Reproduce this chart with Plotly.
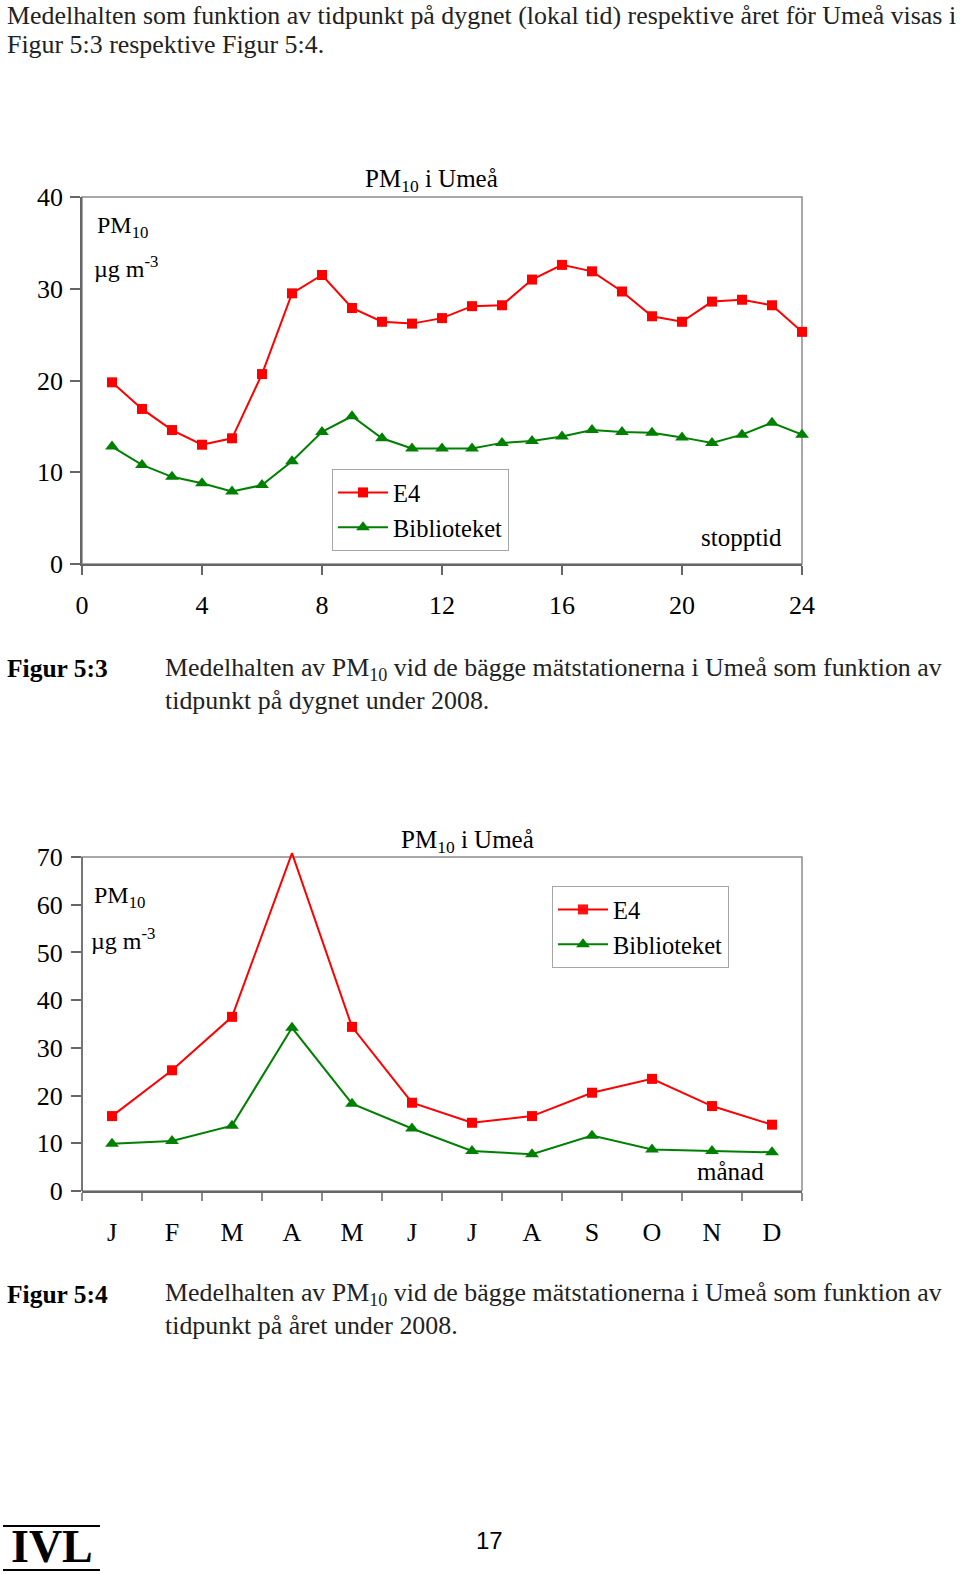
import plotly.graph_objects as go

# ---------- data ----------
hours = list(range(1, 25))
e4_hour = [19.8, 16.9, 14.6, 13.0, 13.7, 20.7, 29.5, 31.5, 27.9, 26.4, 26.2, 26.8,
           28.1, 28.2, 31.0, 32.6, 31.9, 29.7, 27.0, 26.4, 28.6, 28.8, 28.2, 25.3]
bib_hour = [12.8, 10.8, 9.5, 8.8, 7.9, 8.6, 11.2, 14.4, 16.1, 13.7, 12.6, 12.6,
            12.6, 13.2, 13.4, 13.9, 14.6, 14.4, 14.3, 13.8, 13.2, 14.1, 15.4, 14.1]
hour_ticks = [0, 4, 8, 12, 16, 20, 24]

months = ["J", "F", "M", "A", "M", "J", "J", "A", "S", "O", "N", "D"]
e4_month = [15.7, 25.3, 36.5, 70.8, 34.4, 18.5, 14.3, 15.7, 20.6, 23.5, 17.8, 13.9]
bib_month = [9.9, 10.5, 13.7, 34.2, 18.3, 13.1, 8.4, 7.7, 11.6, 8.7, 8.4, 8.1]
month_max = 70

W, H = 960, 1574
def px(x):
    return x / W
def py(y):
    return 1 - y / H

RED = "#ff0000"
GREEN = "#008000"
AX = "#666666"
FRAME = "#8c8c8c"
SERIF = "Liberation Serif"

fig = go.Figure()

# chart 1 (hour of day)
fig.add_trace(go.Scatter(x=hours, y=e4_hour, name="E4", mode="lines+markers",
                         line=dict(color=RED, width=2),
                         marker=dict(symbol="square", size=10, color=RED),
                         cliponaxis=False, xaxis="x", yaxis="y",
                         legend="legend", legendgroup="a"))
fig.add_trace(go.Scatter(x=hours, y=bib_hour, name="Biblioteket", mode="lines+markers",
                         line=dict(color=GREEN, width=2),
                         marker=dict(symbol="triangle-up", size=12, color=GREEN),
                         cliponaxis=False, xaxis="x", yaxis="y",
                         legend="legend", legendgroup="b"))

# chart 2 (month)
month_pos = list(range(1, len(months) + 1))
e4_op = [0 if v > month_max else 1 for v in e4_month]
fig.add_trace(go.Scatter(x=month_pos, y=e4_month, name="E4", mode="lines+markers",
                         line=dict(color=RED, width=2),
                         marker=dict(symbol="square", size=10, color=RED, opacity=e4_op),
                         cliponaxis=False, xaxis="x2", yaxis="y2",
                         legend="legend2", legendgroup="c"))
fig.add_trace(go.Scatter(x=month_pos, y=bib_month, name="Biblioteket", mode="lines+markers",
                         line=dict(color=GREEN, width=2),
                         marker=dict(symbol="triangle-up", size=12, color=GREEN),
                         cliponaxis=False, xaxis="x2", yaxis="y2",
                         legend="legend2", legendgroup="d"))

tickfont = dict(family=SERIF, size=26, color="black")
common_ax = dict(showgrid=False, zeroline=False, ticks="outside", tickcolor=AX,
                 tickwidth=1.5, tickfont=tickfont, fixedrange=True, automargin=False)

legend_style = dict(xanchor="left", yanchor="top", bgcolor="white",
                    bordercolor="#a6a6a6", borderwidth=1,
                    font=dict(family=SERIF, size=24.5, color="black"),
                    itemwidth=50, tracegroupgap=6, traceorder="normal")

xdom = [px(82), px(802)]
fig.update_layout(
    width=W, height=H, margin=dict(l=0, r=0, t=0, b=0, pad=0, autoexpand=False),
    paper_bgcolor="white", plot_bgcolor="white",
    font=dict(family=SERIF, color="black"),
    xaxis=dict(domain=xdom, range=[0, 24], tickmode="array", tickvals=hour_ticks,
               ticklen=9, showline=True, linecolor=AX, linewidth=1.5,
               ticklabelstandoff=8, anchor="y", **common_ax),
    yaxis=dict(domain=[py(564), py(197)], range=[0, 40], tickmode="linear", tick0=0, dtick=10,
               ticklen=10, showline=True, linecolor=AX, linewidth=1.5,
               ticklabelstandoff=2, anchor="x", **common_ax),
    xaxis2=dict(domain=xdom, range=[0.5, len(months) + 0.5], tickmode="array",
                tickvals=month_pos, ticktext=months, ticklen=0,
                showline=True, linecolor=AX, linewidth=1.5, anchor="y2",
                ticklabelstandoff=17,
                minor=dict(tickmode="array",
                           tickvals=[p - 0.5 for p in month_pos] + [month_pos[-1] + 0.5],
                           ticks="outside", ticklen=8, tickcolor=FRAME, tickwidth=1.5),
                showgrid=False, zeroline=False, ticks="", tickfont=tickfont,
                fixedrange=True, automargin=False),
    yaxis2=dict(domain=[py(1191), py(1191 - 72 * (334 / 70))], range=[0, 72],
                tickmode="array", tickvals=list(range(0, month_max + 1, 10)),
                ticklen=10, showline=False, ticklabelstandoff=3, anchor="x2", **common_ax),
    legend=dict(x=px(332), y=py(469), **legend_style),
    legend2=dict(x=px(552), y=py(886), **legend_style),
    showlegend=True,
)

shapes = [
    dict(type="rect", xref="x domain", yref="y domain", x0=0, x1=1, y0=0, y1=1,
         line=dict(color=FRAME, width=1.5), layer="below"),
    dict(type="rect", xref="x2 domain", yref="y2", x0=0, x1=1, y0=0, y1=month_max,
         line=dict(color=FRAME, width=1.5), layer="below"),
    dict(type="line", xref="x2 domain", yref="y2", x0=0, x1=0, y0=0, y1=month_max,
         line=dict(color=AX, width=1.5), layer="below"),
    dict(type="line", xref="paper", yref="paper", x0=px(3), x1=px(100), y0=py(1526), y1=py(1526),
         line=dict(color="black", width=2)),
    dict(type="line", xref="paper", yref="paper", x0=px(3), x1=px(100), y0=py(1570), y1=py(1570),
         line=dict(color="black", width=2)),
]
fig.update_layout(shapes=shapes)

def ann(text, x, y, size, xanchor="left", family=SERIF, color="black", bold=False):
    t = f"<b>{text}</b>" if bold else text
    return dict(text=t, x=px(x), y=py(y), xref="paper", yref="paper",
                xanchor=xanchor, yanchor="middle", showarrow=False,
                font=dict(family=family, size=size, color=color))

body = "#222222"
annotations = [
    ann("Medelhalten som funktion av tidpunkt på dygnet (lokal tid) respektive året för Umeå visas i",
        5, 16, 25.9, color=body),
    ann("Figur 5:3 respektive Figur 5:4.", 5, 45, 25.9, color=body),
    # chart 1
    ann("PM<sub>10</sub> i Umeå", 431, 180, 25, xanchor="center"),
    ann("PM<sub>10</sub>", 95, 227, 24),
    ann("µg m<sup>-3</sup>", 92, 267, 24),
    ann("stopptid", 699, 538, 25),
    # caption 1
    ann("Figur 5:3", 5, 669, 25.5, bold=True),
    ann("Medelhalten av PM<sub>10</sub> vid de bägge mätstationerna i Umeå som funktion av",
        163, 669, 25.9, color=body),
    ann("tidpunkt på dygnet under 2008.", 163, 700, 25.9, color=body),
    # chart 2
    ann("PM<sub>10</sub> i Umeå", 467, 842, 25, xanchor="center"),
    ann("PM<sub>10</sub>", 92, 897, 24),
    ann("µg m<sup>-3</sup>", 89, 939, 24),
    ann("månad", 695, 1171, 25),
    # caption 2
    ann("Figur 5:4", 5, 1294, 25.5, bold=True),
    ann("Medelhalten av PM<sub>10</sub> vid de bägge mätstationerna i Umeå som funktion av",
        163, 1294, 25.9, color=body),
    ann("tidpunkt på året under 2008.", 163, 1325, 25.9, color=body),
    # footer
    ann("IVL", 52, 1546, 46, xanchor="center", bold=True),
    ann("17", 490, 1540, 24, xanchor="center", family="Liberation Sans"),
]
fig.update_layout(annotations=annotations)

fig.write_html("out.html", config={"displayModeBar": False},
               post_script="document.body.style.margin='0';")
